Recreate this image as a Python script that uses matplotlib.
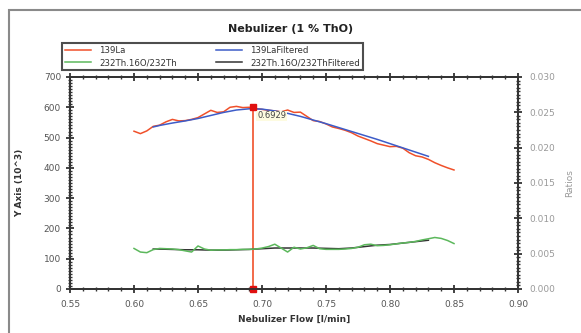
"""Nebulizer flow optimisation chart (1 % ThO)."""

import matplotlib

matplotlib.use("Agg")
import matplotlib.pyplot as plt
from matplotlib.patches import Rectangle
from matplotlib.ticker import MultipleLocator

# nebulizer flow [l/min]
flow = [
    0.600, 0.605, 0.610, 0.615, 0.620, 0.625, 0.630, 0.635, 0.640, 0.645,
    0.650, 0.655, 0.660, 0.665, 0.670, 0.675, 0.680, 0.685, 0.690, 0.695,
    0.700, 0.705, 0.710, 0.715, 0.720, 0.725, 0.730, 0.735, 0.740, 0.745,
    0.750, 0.755, 0.760, 0.765, 0.770, 0.775, 0.780, 0.785, 0.790, 0.795,
    0.800, 0.805, 0.810, 0.815, 0.820, 0.825, 0.830, 0.835, 0.840, 0.845,
    0.850,
]
la139 = [
    521, 513, 522, 537, 541, 552, 560, 555, 556, 560,
    566, 578, 590, 583, 585, 600, 603, 599, 600, 596,
    593, 590, 588, 585, 591, 583, 584, 570, 556, 553,
    545, 535, 530, 524, 516, 505, 497, 489, 480, 475,
    470, 471, 465, 450, 440, 436, 428, 417, 408, 400,
    393,
]
tho_ratio = [
    0.00574, 0.00523, 0.00514, 0.00557, 0.00574, 0.00570, 0.00566, 0.00557, 0.00540, 0.00523,
    0.00609, 0.00566, 0.00549, 0.00553, 0.00553, 0.00557, 0.00557, 0.00561, 0.00561, 0.00566,
    0.00579, 0.00600, 0.00634, 0.00579, 0.00523, 0.00591, 0.00566, 0.00583, 0.00617, 0.00570,
    0.00561, 0.00561, 0.00561, 0.00566, 0.00574, 0.00591, 0.00626, 0.00634, 0.00613, 0.00617,
    0.00626, 0.00639, 0.00651, 0.00660, 0.00673, 0.00694, 0.00711, 0.00729, 0.00716, 0.00686,
    0.00643,
]

# filtered curves cover a shorter flow range
flow_filt = [
    0.615, 0.620, 0.630, 0.640, 0.650, 0.660, 0.670, 0.680, 0.690, 0.700,
    0.710, 0.720, 0.730, 0.740, 0.750, 0.760, 0.770, 0.780, 0.790, 0.800,
    0.810, 0.820, 0.830,
]
la139_filt = [
    535, 540, 548, 555, 563, 573, 583, 591, 595, 594,
    588, 580, 570, 558, 546, 533, 520, 507, 494, 480,
    466, 452, 438,
]
tho_ratio_filt = [
    0.00565, 0.00565, 0.00560, 0.00555, 0.00555, 0.00550, 0.00550, 0.00555, 0.00560, 0.00570,
    0.00580, 0.00580, 0.00580, 0.00580, 0.00575, 0.00570, 0.00580, 0.00600, 0.00620, 0.00630,
    0.00650, 0.00670, 0.00690,
]

cursor_x = 0.6929
cursor_y = 600

RED = "#f0502a"
BLUE = "#3d5cc8"
GREEN = "#5cb85c"
DARK = "#333333"

fig = plt.figure(figsize=(5.81, 3.33), dpi=100)
fig.patches.append(Rectangle((9 / 581, -0.05), 1.1, 1 - 10 / 333 + 0.05,
                             transform=fig.transFigure, fill=False,
                             edgecolor="#8a8a8a", linewidth=1.5))

ax = fig.add_axes([70 / 581, 1 - 289 / 333, 448 / 581, 212 / 333])
ax2 = ax.twinx()

(l1,) = ax.plot(flow, la139, color=RED, lw=1.1, label="139La")
(l2,) = ax.plot(flow_filt, la139_filt, color=BLUE, lw=1.1, label="139LaFiltered")
(l4,) = ax2.plot(flow_filt, tho_ratio_filt, color=DARK, lw=1.1,
                 label="232Th.16O/232ThFiltered")
(l3,) = ax2.plot(flow, tho_ratio, color=GREEN, lw=1.1, label="232Th.16O/232Th")

# cursor
ax.plot([cursor_x, cursor_x], [0, cursor_y], color=RED, lw=1.2, zorder=5)
ax.plot([cursor_x], [cursor_y], marker="s", ms=4, color="#e01010", zorder=6)
ax.plot([cursor_x], [0], marker="s", ms=4, color="#e01010", zorder=6, clip_on=False)
ax.annotate(f"{cursor_x:.4f}", (cursor_x, cursor_y), xytext=(3, -8),
            textcoords="offset points", fontsize=6, color="#444444",
            bbox=dict(boxstyle="square,pad=0.1", fc="#fdfbe0", ec="none"),
            zorder=7)

ax.set_xlim(0.55, 0.90)
ax.set_ylim(0, 700)
ax2.set_ylim(0, 0.030)

ax.xaxis.set_major_locator(MultipleLocator(0.05))
ax.xaxis.set_minor_locator(MultipleLocator(0.01))
ax.yaxis.set_major_locator(MultipleLocator(100))
ax.yaxis.set_minor_locator(MultipleLocator(10))
ax2.yaxis.set_major_locator(MultipleLocator(0.005))
ax2.yaxis.set_minor_locator(MultipleLocator(0.0005))
ax.xaxis.set_major_formatter(lambda v, pos: f"{v:.2f}")
ax2.yaxis.set_major_formatter(lambda v, pos: f"{v:.3f}")

for a in (ax, ax2):
    for side in a.spines:
        a.spines[side].set_linewidth(1.3)
        a.spines[side].set_color(DARK)
ax.tick_params(axis="both", which="major", direction="inout", length=6, width=1.3,
               labelsize=6.5, labelcolor="#555555", color=DARK, top=True)
ax.tick_params(axis="both", which="minor", direction="inout", length=3, width=1,
               color=DARK, top=True)
ax.tick_params(axis="x", pad=5)
ax2.tick_params(axis="y", which="major", direction="inout", length=6, width=1.3,
                labelsize=6.5, labelcolor="#999999", color=DARK, pad=5)
ax2.tick_params(axis="y", which="minor", direction="inout", length=3, width=1,
                color=DARK)

ax.set_xlabel("Nebulizer Flow [l/min]", fontsize=6.5, fontweight="bold",
              color=DARK, labelpad=4)
ax.set_ylabel("Y Axis (10^3)", fontsize=6.5, fontweight="bold", color=DARK,
              labelpad=14)
ax2.set_ylabel("Ratios", fontsize=6.5, color="#999999", labelpad=7)

fig.text(0.5, 1 - 29 / 333, "Nebulizer (1 % ThO)", ha="center", va="center",
         fontsize=8, fontweight="bold", color="#222222")

# legend fills column by column
leg = fig.legend([l1, l3, l2, l4],
                 ["139La", "232Th.16O/232Th", "139LaFiltered",
                  "232Th.16O/232ThFiltered"],
                 ncol=2, loc="upper left",
                 bbox_to_anchor=(62 / 581, 1 - 43 / 333),
                 fontsize=6.2, frameon=True, fancybox=False,
                 handlelength=3.0, handletextpad=0.9, columnspacing=4.6,
                 labelspacing=0.3, borderpad=0.4, borderaxespad=0)
leg.get_frame().set_edgecolor("#222222")
leg.get_frame().set_linewidth(1.5)
for text in leg.get_texts():
    text.set_color("#333333")

fig.savefig("out.png", dpi=100)
